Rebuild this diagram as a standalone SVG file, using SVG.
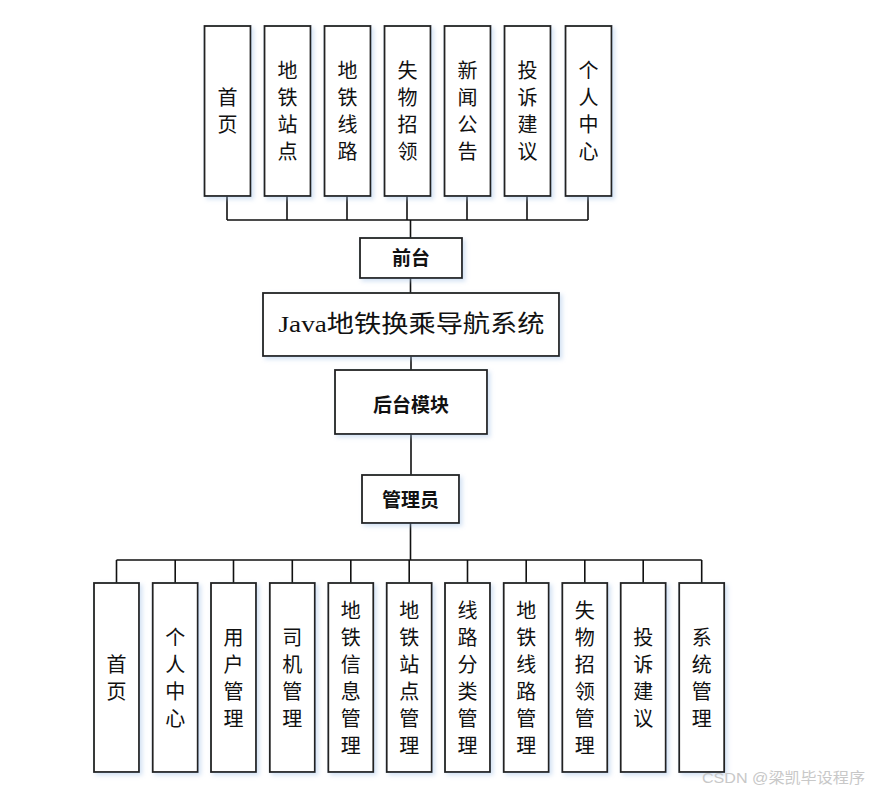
<svg xmlns="http://www.w3.org/2000/svg" width="869" height="793" viewBox="0 0 869 793">
<defs>
<filter id="sh" x="-20%" y="-20%" width="150%" height="150%">
<feDropShadow dx="2.5" dy="2.5" stdDeviation="2" flood-color="#9fbfe6" flood-opacity="0.45"/>
</filter>
</defs>
<style>
.box{fill:#fff;stroke:#222;stroke-width:1.8;filter:url(#sh)}
.t{font-family:"Noto Sans CJK SC","Noto Sans",sans-serif;font-size:20px;fill:#111;text-anchor:middle;dominant-baseline:central}
.b{font-family:"Noto Sans CJK SC","Noto Sans",sans-serif;font-size:19px;font-weight:bold;fill:#111;text-anchor:middle;dominant-baseline:central}
.ttl{font-family:"Liberation Serif","Noto Sans CJK SC",serif;font-size:24px;fill:#111;text-anchor:middle;dominant-baseline:central}
.ln{stroke:#111;stroke-width:1.6;fill:none}
.wm{font-family:"Liberation Sans","Noto Sans CJK SC",sans-serif;font-size:15px;fill:#c8c8c8}
</style>
<rect width="869" height="793" fill="#fff"/>
<g id="connectors">
<path class="ln" d="M227 196V220M287 196V220M347 196V220M407 196V220M467 196V220M527 196V220M588 196V220M227 220H588"/>
<path class="ln" stroke-width="2" d="M410.5 220V238M410.5 278V293"/>
<path class="ln" d="M411 356V370M411 434V475"/>
<path class="ln" stroke-width="3" d="M410.5 523V560"/>
<path class="ln" d="M116.5 560H701.7M116.5 560V583M175.2 560V583M233.5 560V583M292.3 560V583M350.8 560V583M409.2 560V583M467.5 560V583M526.2 560V583M584.8 560V583M643.2 560V583M701.7 560V583"/>
</g>
<g id="f1"><rect class="box" x="204.5" y="26" width="46" height="170"/><text class="t"><tspan x="227.5" y="95.5">首</tspan><tspan x="227.5" y="122.5">页</tspan></text></g>
<g id="f2"><rect class="box" x="264.5" y="26" width="46" height="170"/><text class="t"><tspan x="287.5" y="68.5">地</tspan><tspan x="287.5" y="95.5">铁</tspan><tspan x="287.5" y="122.5">站</tspan><tspan x="287.5" y="149.5">点</tspan></text></g>
<g id="f3"><rect class="box" x="324.5" y="26" width="46" height="170"/><text class="t"><tspan x="347.5" y="68.5">地</tspan><tspan x="347.5" y="95.5">铁</tspan><tspan x="347.5" y="122.5">线</tspan><tspan x="347.5" y="149.5">路</tspan></text></g>
<g id="f4"><rect class="box" x="384.5" y="26" width="46" height="170"/><text class="t"><tspan x="407.5" y="68.5">失</tspan><tspan x="407.5" y="95.5">物</tspan><tspan x="407.5" y="122.5">招</tspan><tspan x="407.5" y="149.5">领</tspan></text></g>
<g id="f5"><rect class="box" x="444.5" y="26" width="46" height="170"/><text class="t"><tspan x="467.5" y="68.5">新</tspan><tspan x="467.5" y="95.5">闻</tspan><tspan x="467.5" y="122.5">公</tspan><tspan x="467.5" y="149.5">告</tspan></text></g>
<g id="f6"><rect class="box" x="504.5" y="26" width="46" height="170"/><text class="t"><tspan x="527.5" y="68.5">投</tspan><tspan x="527.5" y="95.5">诉</tspan><tspan x="527.5" y="122.5">建</tspan><tspan x="527.5" y="149.5">议</tspan></text></g>
<g id="f7"><rect class="box" x="565.5" y="26" width="46" height="170"/><text class="t"><tspan x="588.5" y="68.5">个</tspan><tspan x="588.5" y="95.5">人</tspan><tspan x="588.5" y="122.5">中</tspan><tspan x="588.5" y="149.5">心</tspan></text></g>
<g id="front"><rect class="box" x="360" y="238" width="102" height="40"/><text class="b" x="411" y="256.5">前台</text></g>
<g id="system"><rect class="box" x="263" y="293" width="296" height="63"/><text class="ttl" x="411.5" y="324" textLength="266" lengthAdjust="spacingAndGlyphs">Java地铁换乘导航系统</text></g>
<g id="backend"><rect class="box" x="335" y="370" width="152" height="64"/><text class="b" x="411" y="403">后台模块</text></g>
<g id="admin"><rect class="box" x="362" y="475" width="97" height="48"/><text class="b" x="410.5" y="498.5">管理员</text></g>
<g id="a1"><rect class="box" x="94" y="583" width="45" height="189"/><text class="t"><tspan x="116.5" y="662.5">首</tspan><tspan x="116.5" y="689.5">页</tspan></text></g>
<g id="a2"><rect class="box" x="152.7" y="583" width="45" height="189"/><text class="t"><tspan x="175.2" y="635.5">个</tspan><tspan x="175.2" y="662.5">人</tspan><tspan x="175.2" y="689.5">中</tspan><tspan x="175.2" y="716.5">心</tspan></text></g>
<g id="a3"><rect class="box" x="211" y="583" width="45" height="189"/><text class="t"><tspan x="233.5" y="635.5">用</tspan><tspan x="233.5" y="662.5">户</tspan><tspan x="233.5" y="689.5">管</tspan><tspan x="233.5" y="716.5">理</tspan></text></g>
<g id="a4"><rect class="box" x="269.8" y="583" width="45" height="189"/><text class="t"><tspan x="292.3" y="635.5">司</tspan><tspan x="292.3" y="662.5">机</tspan><tspan x="292.3" y="689.5">管</tspan><tspan x="292.3" y="716.5">理</tspan></text></g>
<g id="a5"><rect class="box" x="328.3" y="583" width="45" height="189"/><text class="t"><tspan x="350.8" y="608.5">地</tspan><tspan x="350.8" y="635.5">铁</tspan><tspan x="350.8" y="662.5">信</tspan><tspan x="350.8" y="689.5">息</tspan><tspan x="350.8" y="716.5">管</tspan><tspan x="350.8" y="743.5">理</tspan></text></g>
<g id="a6"><rect class="box" x="386.7" y="583" width="45" height="189"/><text class="t"><tspan x="409.2" y="608.5">地</tspan><tspan x="409.2" y="635.5">铁</tspan><tspan x="409.2" y="662.5">站</tspan><tspan x="409.2" y="689.5">点</tspan><tspan x="409.2" y="716.5">管</tspan><tspan x="409.2" y="743.5">理</tspan></text></g>
<g id="a7"><rect class="box" x="445" y="583" width="45" height="189"/><text class="t"><tspan x="467.5" y="608.5">线</tspan><tspan x="467.5" y="635.5">路</tspan><tspan x="467.5" y="662.5">分</tspan><tspan x="467.5" y="689.5">类</tspan><tspan x="467.5" y="716.5">管</tspan><tspan x="467.5" y="743.5">理</tspan></text></g>
<g id="a8"><rect class="box" x="503.7" y="583" width="45" height="189"/><text class="t"><tspan x="526.2" y="608.5">地</tspan><tspan x="526.2" y="635.5">铁</tspan><tspan x="526.2" y="662.5">线</tspan><tspan x="526.2" y="689.5">路</tspan><tspan x="526.2" y="716.5">管</tspan><tspan x="526.2" y="743.5">理</tspan></text></g>
<g id="a9"><rect class="box" x="562.3" y="583" width="45" height="189"/><text class="t"><tspan x="584.8" y="608.5">失</tspan><tspan x="584.8" y="635.5">物</tspan><tspan x="584.8" y="662.5">招</tspan><tspan x="584.8" y="689.5">领</tspan><tspan x="584.8" y="716.5">管</tspan><tspan x="584.8" y="743.5">理</tspan></text></g>
<g id="a10"><rect class="box" x="620.7" y="583" width="45" height="189"/><text class="t"><tspan x="643.2" y="635.5">投</tspan><tspan x="643.2" y="662.5">诉</tspan><tspan x="643.2" y="689.5">建</tspan><tspan x="643.2" y="716.5">议</tspan></text></g>
<g id="a11"><rect class="box" x="679.2" y="583" width="45" height="189"/><text class="t"><tspan x="701.7" y="635.5">系</tspan><tspan x="701.7" y="662.5">统</tspan><tspan x="701.7" y="689.5">管</tspan><tspan x="701.7" y="716.5">理</tspan></text></g>
<text class="wm" x="702" y="783" textLength="163" lengthAdjust="spacingAndGlyphs">CSDN @梁凯毕设程序</text>
</svg>
